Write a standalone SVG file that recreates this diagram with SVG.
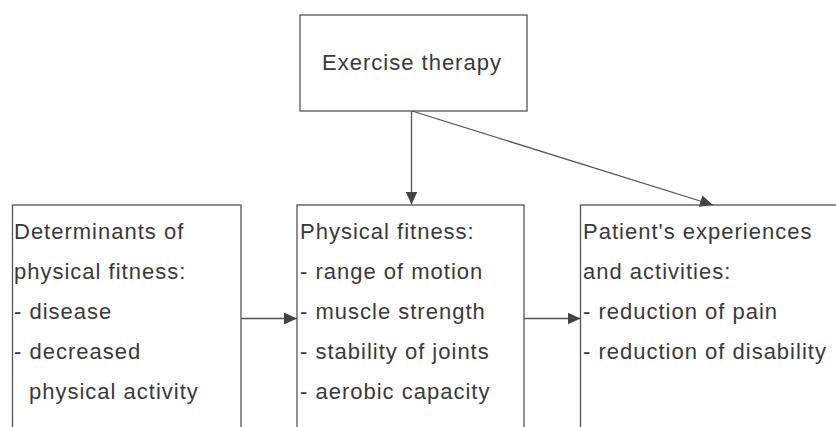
<svg xmlns="http://www.w3.org/2000/svg" width="836" height="427" viewBox="0 0 836 427">
<defs>
<style>
.box{fill:#ffffff;stroke:#555555;stroke-width:1.3}
.t{font-family:"Liberation Sans",Arial,sans-serif;font-size:22px;letter-spacing:1px;fill:#3a3a3a}
.c{fill:none;stroke:#555555;stroke-width:1.3}
</style>
<marker id="ah" markerUnits="userSpaceOnUse" markerWidth="14" markerHeight="12" refX="13" refY="6" orient="auto">
<path d="M0,0 L13,6 L0,12 z" fill="#444444"/>
</marker>
</defs>
<rect width="836" height="427" fill="#ffffff"/>
<g id="node-exercise">
<rect class="box" x="300" y="15" width="227" height="96"/>
<text class="t" x="412" y="70" text-anchor="middle">Exercise therapy</text>
</g>
<g id="node-determinants">
<rect class="box" x="12.5" y="205" width="228.5" height="260"/>
<text class="t" x="14" y="239">Determinants of</text>
<text class="t" x="14" y="279">physical fitness:</text>
<text class="t" x="14" y="319">- disease</text>
<text class="t" x="14" y="359">- decreased</text>
<text class="t" x="29" y="399">physical activity</text>
</g>
<g id="node-fitness">
<rect class="box" x="297" y="205" width="227" height="260"/>
<text class="t" x="300" y="239">Physical fitness:</text>
<text class="t" x="300" y="279">- range of motion</text>
<text class="t" x="300" y="319">- muscle strength</text>
<text class="t" x="300" y="359">- stability of joints</text>
<text class="t" x="300" y="399">- aerobic capacity</text>
</g>
<g id="node-patient">
<rect class="box" x="580.5" y="205" width="300" height="260"/>
<text class="t" x="583" y="239">Patient's experiences</text>
<text class="t" x="583" y="279">and activities:</text>
<text class="t" x="583" y="319">- reduction of pain</text>
<text class="t" x="583" y="359">- reduction of disability</text>
</g>
<g id="connectors">
<line class="c" x1="411.5" y1="111" x2="411.5" y2="204.5" marker-end="url(#ah)"/>
<line class="c" x1="412" y1="111" x2="713" y2="205" marker-end="url(#ah)"/>
<line class="c" x1="241" y1="318.5" x2="297" y2="318.5" marker-end="url(#ah)"/>
<line class="c" x1="524" y1="318.5" x2="580.5" y2="318.5" marker-end="url(#ah)"/>
</g>
</svg>
